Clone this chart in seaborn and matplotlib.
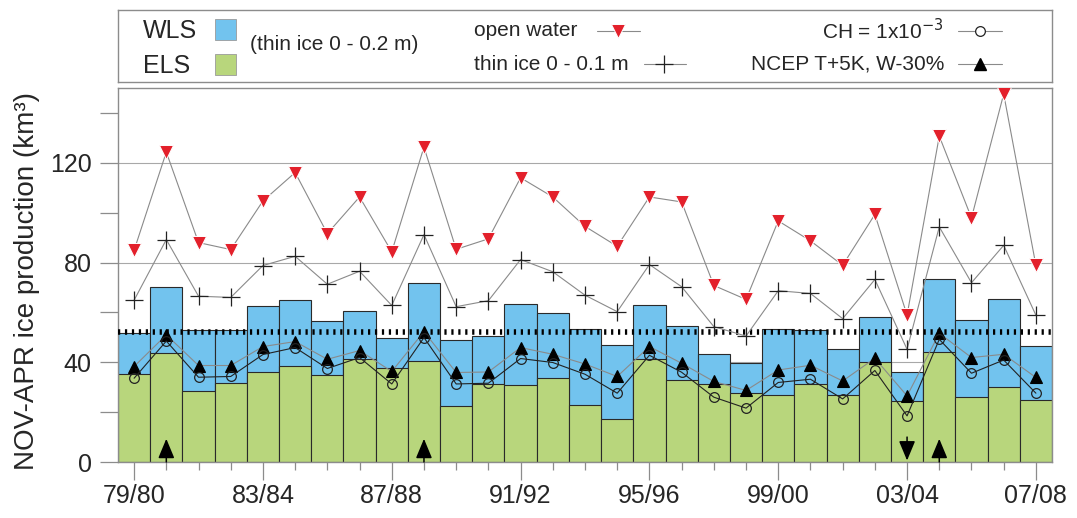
import numpy as np
import pandas as pd
import matplotlib
matplotlib.use("Agg")
import matplotlib.pyplot as plt
from matplotlib.patches import Rectangle
import seaborn as sns

# ---------------- data ----------------
seasons = ["79/80", "80/81", "81/82", "82/83", "83/84", "84/85", "85/86", "86/87",
           "87/88", "88/89", "89/90", "90/91", "91/92", "92/93", "93/94", "94/95",
           "95/96", "96/97", "97/98", "98/99", "99/00", "00/01", "01/02", "02/03",
           "03/04", "04/05", "05/06", "06/07", "07/08"]
total_wls_els = [51.6, 70.0, 52.9, 52.9, 62.5, 64.9, 56.5, 60.5, 49.6, 71.6,
                 48.9, 50.7, 63.2, 59.6, 53.3, 46.9, 62.8, 54.7, 43.2, 39.9,
                 53.2, 52.9, 45.2, 58.0, 35.9, 73.3, 56.8, 65.2, 46.5]
els = [35.2, 43.6, 28.4, 31.6, 36.0, 38.5, 34.8, 41.2, 37.6, 40.5,
       22.4, 31.3, 30.8, 33.6, 22.9, 17.1, 41.2, 32.9, 31.2, 27.6,
       26.9, 31.2, 26.9, 40.0, 24.4, 44.0, 26.0, 30.0, 24.9]
open_water = [84.9, 124.3, 88.0, 85.2, 104.7, 116.1, 91.6, 106.3, 84.3, 126.3,
              85.3, 89.5, 114.0, 106.3, 94.5, 86.5, 106.3, 104.3, 70.8, 65.2,
              96.7, 88.7, 78.9, 99.3, 58.9, 130.7, 97.9, 147.6, 78.9]
thin_ice = [64.9, 89.2, 66.5, 66.0, 78.8, 82.5, 71.3, 76.5, 62.8, 91.2,
            62.3, 64.7, 81.2, 76.3, 66.9, 60.3, 79.2, 70.3, 54.3, 50.5,
            68.7, 67.6, 57.5, 73.2, 45.2, 94.3, 71.9, 86.9, 58.9]
ch = [33.6, 48.5, 34.0, 34.3, 43.1, 45.9, 37.5, 41.9, 31.3, 49.9,
      31.3, 31.6, 41.5, 39.9, 35.2, 27.6, 42.8, 36.0, 26.0, 21.6,
      31.9, 33.2, 25.3, 36.7, 18.5, 49.2, 35.6, 40.9, 27.6]
ncep = [38.3, 51.0, 38.7, 38.7, 46.3, 48.3, 41.2, 44.7, 36.3, 52.3,
        35.9, 36.1, 45.9, 43.2, 39.3, 34.3, 46.3, 39.6, 32.3, 28.7,
        36.9, 38.8, 32.5, 41.6, 26.5, 51.6, 41.9, 43.2, 33.9]
mean_total = 52.3
arrow_up_idx = [1, 9, 25]
arrow_down_idx = [24]
yticks = [0, 40, 80, 120]
yticks_minor = [20, 60, 100, 140]

# ---------------- style ----------------
sns.set_style("white")
plt.rcParams['font.family'] = ['Liberation Sans', 'DejaVu Sans']

BLUE = "#72C3EE"
GREEN = "#B8D67C"
RED = "#E3202B"
GRAYLINE = "#8a8a8a"
SPINE = "#8c8c8c"

fig = plt.figure(figsize=(10.77, 5.18), dpi=100)
W, H = 1077, 518
ax = fig.add_axes([118 / W, 1 - 462 / H, (1052 - 118) / W, (462 - 88) / H])

idx = np.arange(len(seasons))
df = pd.DataFrame({"idx": idx, "season": seasons, "total": total_wls_els, "els": els,
                   "open_water": open_water, "thin_ice": thin_ice, "ch": ch, "ncep": ncep})

ax.set_axisbelow(True)
ax.yaxis.grid(True, which="major", color="#a8a8a8", lw=0.8)

sns.barplot(data=df, x="idx", y="total", native_scale=True, width=1.0, color=BLUE,
            saturation=1, edgecolor="#2a2a2a", linewidth=0.8, errorbar=None, ax=ax)
sns.barplot(data=df, x="idx", y="els", native_scale=True, width=1.0, color=GREEN,
            saturation=1, edgecolor="#2a2a2a", linewidth=0.8, errorbar=None, ax=ax)

ax.axhline(mean_total, color="black", lw=4.0, linestyle=(0, (0.4, 0.85)),
           dash_capstyle="butt", zorder=4)

sns.lineplot(data=df, x="idx", y="open_water", ax=ax, color=GRAYLINE, lw=0.8,
             marker="v", markersize=10.5, markerfacecolor=RED, markeredgecolor="white",
             markeredgewidth=0.7, legend=False, zorder=5)
sns.lineplot(data=df, x="idx", y="thin_ice", ax=ax, color=GRAYLINE, lw=0.8,
             marker="+", markersize=13, markeredgecolor="#222222",
             markeredgewidth=0.9, legend=False, zorder=5)
sns.lineplot(data=df, x="idx", y="ncep", ax=ax, color=GRAYLINE, lw=0.8,
             marker="^", markersize=9, markerfacecolor="black", markeredgecolor="black",
             markeredgewidth=0.8, legend=False, zorder=6)
sns.lineplot(data=df, x="idx", y="ch", ax=ax, color="#222222", lw=0.8,
             marker="o", markersize=7, markerfacecolor="none", markeredgecolor="#222222",
             markeredgewidth=0.9, legend=False, zorder=6)

# arrows
astyle = "-|>,head_length=0.6,head_width=0.25"
for i in arrow_up_idx:
    ax.annotate("", xy=(i, 9.3), xytext=(i, 0),
                arrowprops=dict(arrowstyle=astyle, lw=1.1, color="black",
                                shrinkA=0, shrinkB=0, mutation_scale=20), zorder=7)
for i in arrow_down_idx:
    ax.annotate("", xy=(i, 0.6), xytext=(i, 10.0),
                arrowprops=dict(arrowstyle=astyle, lw=1.1, color="black",
                                shrinkA=0, shrinkB=0, mutation_scale=20), zorder=7)

ax.set_xlim(-0.5, len(seasons) - 0.5)
ax.set_ylim(0, 150)
major = idx[::4]
ax.set_xticks(major)
ax.set_xticklabels([seasons[i] for i in major])
ax.set_xticks([i for i in idx if i % 4 != 0], minor=True)
ax.set_yticks(yticks)
ax.set_yticks(yticks_minor, minor=True)
ax.tick_params(axis="x", which="major", length=13, width=0.9, color=SPINE,
               direction="out", labelsize=18, pad=3, bottom=True)
ax.tick_params(axis="x", which="minor", length=6, width=0.9, color=SPINE,
               direction="out", bottom=True)
ax.tick_params(axis="y", which="both", length=13, width=0.9, color=SPINE,
               direction="out", left=True)
ax.tick_params(axis="y", which="major", labelsize=18, pad=6)
ax.set_xlabel("")
ax.set_ylabel("NOV-APR ice production (km³)", fontsize=20)
ax.yaxis.set_label_coords(-0.084, 0.485)
for s in ax.spines.values():
    s.set_color(SPINE)
    s.set_linewidth(1.0)
    s.set_visible(True)

# ---------------- legend box ----------------
leg = fig.add_axes([118 / W, 1 - 82 / H, (1052 - 118) / W, (82 - 10) / H])
leg.set_xlim(118, 1052)
leg.set_ylim(82, 10)
leg.set_xticks([])
leg.set_yticks([])
for s in leg.spines.values():
    s.set_color(SPINE)
    s.set_linewidth(1.0)

leg.text(143, 31, "WLS", fontsize=18, va="center", ha="left")
leg.text(143, 66, "ELS", fontsize=18, va="center", ha="left")
leg.add_patch(Rectangle((215, 19), 21, 21, facecolor=BLUE, edgecolor="#9a9a9a", lw=0.6))
leg.add_patch(Rectangle((215, 54), 21, 21, facecolor=GREEN, edgecolor="#9a9a9a", lw=0.6))
leg.text(250, 44, "(thin ice 0 - 0.2 m)", fontsize=15, va="center", ha="left")

leg.text(474, 31, "open water", fontsize=15, va="center", ha="left")
leg.plot([597, 640], [31, 31], color=GRAYLINE, lw=0.8)
leg.plot([618], [31], marker="v", markersize=10, markerfacecolor=RED,
         markeredgecolor="white", markeredgewidth=0.7, ls="none")
leg.text(474, 64, "thin ice 0 - 0.1 m", fontsize=15, va="center", ha="left")
leg.plot([644, 686], [64, 64], color=GRAYLINE, lw=0.8)
leg.plot([664], [64], marker="+", markersize=13, markeredgecolor="#222222",
         markeredgewidth=0.9, ls="none")

leg.text(944, 31, "CH = 1x10$^{-3}$", fontsize=15, va="center", ha="right")
leg.plot([958, 1002], [31, 31], color=GRAYLINE, lw=0.8)
leg.plot([980], [31], marker="o", markersize=7, markerfacecolor="white",
         markeredgecolor="#222222", markeredgewidth=0.9, ls="none")
leg.text(944, 64, "NCEP T+5K, W-30%", fontsize=15, va="center", ha="right")
leg.plot([958, 1002], [64, 64], color=GRAYLINE, lw=0.8)
leg.plot([980], [64], marker="^", markersize=9, markerfacecolor="black",
         markeredgecolor="black", ls="none")

fig.savefig("out.png", dpi=100)
